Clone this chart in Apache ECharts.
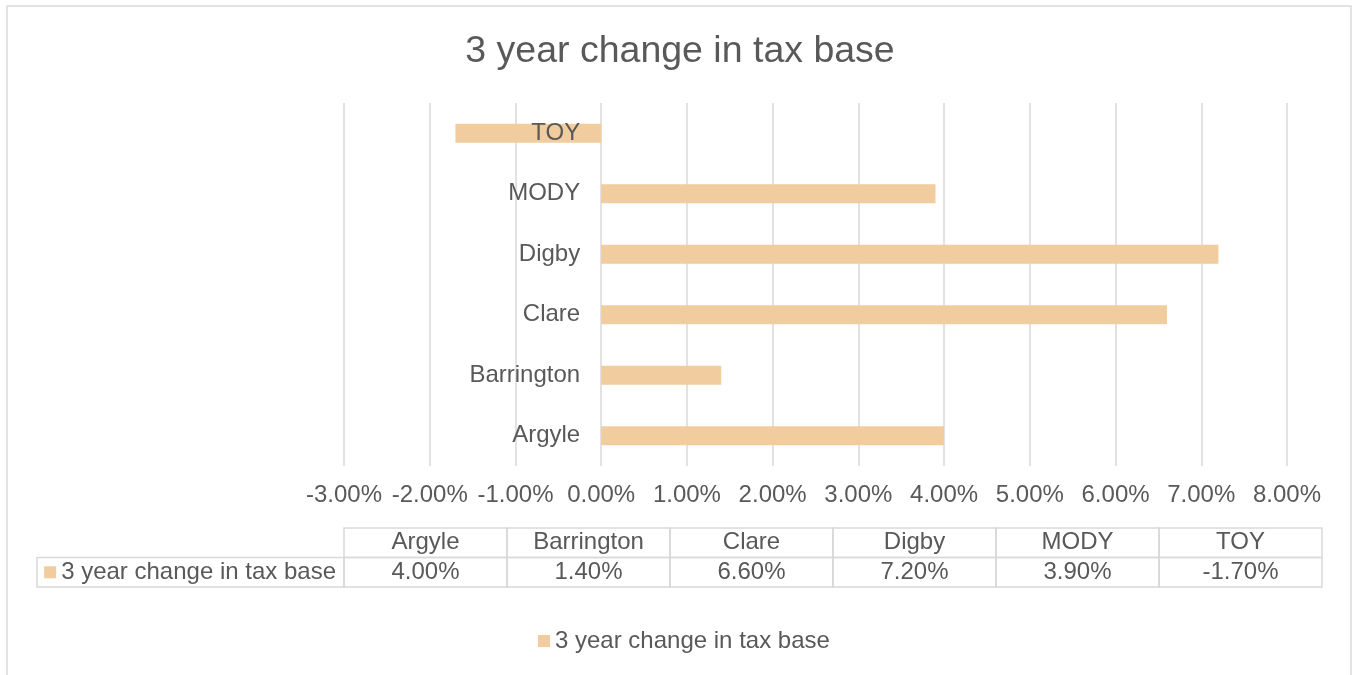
<!DOCTYPE html>
<html>
<head>
<meta charset="utf-8">
<title>3 year change in tax base</title>
<script src="https://cdn.jsdelivr.net/npm/echarts@6/dist/echarts.min.js"></script>
<style>
  html, body { margin: 0; padding: 0; background: #fff; }
  #chart { width: 1353px; height: 675px; }
</style>
</head>
<body>
<div id="chart"></div>
<script>
// 数据
var categories = ['Argyle', 'Barrington', 'Clare', 'Digby', 'MODY', 'TOY']
var seriesName = '3 year change in tax base'
var taxBaseChange = [4.0, 1.4, 6.6, 7.2, 3.9, -1.7] // 单位 %
var xTicks = { min: -3, max: 8, step: 1 }

var barColor = '#F1CC9E'
var textColor = '#595959'
var lineColor = '#D9D9D9'
var font = 'Liberation Sans, Arial, sans-serif'

function pct(v) {
  return v.toFixed(2) + '%'
}

// 表格单元：每个类别两行（表头 + 数值），外加左侧图例格
var tableCells = []
categories.forEach(function (c, i) {
  tableCells.push([i, 1, 'head'])
  tableCells.push([i, 0, 'val'])
})
tableCells.push([0, 0, 'legend'])

var myChart = echarts.init(document.getElementById('chart'))

myChart.setOption({
  animation: false,
  textStyle: { fontFamily: font },
  title: {
    text: '3 year change in tax base',
    left: 675,
    textAlign: 'center',
    top: 28,
    textStyle: { fontFamily: font, fontSize: 37.5, fontWeight: 'normal', color: textColor }
  },
  legend: {
    left: 538,
    top: 629,
    padding: 0,
    icon: 'rect',
    itemWidth: 12,
    itemHeight: 12,
    data: [seriesName],
    textStyle: { fontFamily: font, fontSize: 24, color: textColor }
  },
  graphic: [{
    type: 'rect',
    shape: { x: 7, y: 6, width: 1344, height: 720 },
    style: { fill: 'none', stroke: lineColor, lineWidth: 1.5 },
    silent: true
  }],
  grid: [
    { left: 344, right: 66, top: 103, bottom: 209, outerBoundsMode: 'none' },
    { left: 344, right: 31, top: 528, bottom: 88, outerBoundsMode: 'none' }
  ],
  xAxis: [
    {
      type: 'value',
      gridIndex: 0,
      min: xTicks.min,
      max: xTicks.max,
      interval: xTicks.step,
      axisLine: { show: false },
      axisTick: { show: false },
      axisLabel: {
        margin: 17,
        fontFamily: font,
        fontSize: 24,
        color: textColor,
        formatter: function (v) { return pct(v) }
      },
      splitLine: { show: true, lineStyle: { color: lineColor, width: 1.5 } }
    },
    {
      type: 'category',
      gridIndex: 1,
      data: categories,
      show: false
    }
  ],
  yAxis: [
    {
      type: 'category',
      gridIndex: 0,
      data: categories,
      z: 5, // 标签盖在柱子上面（TOY）
      axisLine: { show: false },
      axisTick: { show: false },
      axisLabel: { margin: 21, fontFamily: font, fontSize: 24, color: textColor }
    },
    {
      type: 'category',
      gridIndex: 1,
      data: [seriesName, ''],
      axisLine: { show: false },
      axisTick: { show: false },
      axisLabel: {
        margin: 8,
        formatter: function (v) { return v ? '{m|}{t|' + v + '}' : '' },
        rich: {
          m: { width: 12, height: 12, backgroundColor: barColor },
          t: { fontFamily: font, fontSize: 24, color: textColor, padding: [0, 0, 0, 5] }
        }
      }
    }
  ],
  series: [
    {
      name: seriesName,
      type: 'bar',
      xAxisIndex: 0,
      yAxisIndex: 0,
      barWidth: 19,
      itemStyle: { color: barColor },
      data: taxBaseChange,
      z: 1
    },
    {
      type: 'custom',
      xAxisIndex: 1,
      yAxisIndex: 1,
      silent: true,
      data: tableCells,
      encode: { x: 0, y: 1 },
      renderItem: function (params, api) {
        var i = api.value(0)
        var row = api.value(1)
        var kind = tableCells[params.dataIndex][2]
        var c = api.coord([i, row])
        var s = api.size([1, 1])
        if (kind === 'legend') {
          var gx = params.coordSys.x
          return {
            type: 'rect',
            shape: { x: 37, y: c[1] - s[1] / 2, width: gx - 37, height: s[1] },
            style: { fill: 'none', stroke: lineColor, lineWidth: 1.5 }
          }
        }
        var txt = kind === 'head' ? categories[i] : pct(taxBaseChange[i])
        return {
          type: 'group',
          children: [
            {
              type: 'rect',
              shape: { x: c[0] - s[0] / 2, y: c[1] - s[1] / 2, width: s[0], height: s[1] },
              style: { fill: 'none', stroke: lineColor, lineWidth: 1.5 }
            },
            {
              type: 'text',
              x: c[0],
              y: c[1],
              style: {
                text: txt,
                fontFamily: font,
                fontSize: 24,
                fill: textColor,
                align: 'center',
                verticalAlign: 'middle'
              }
            }
          ]
        }
      }
    }
  ]
})

// 类别标签贴在 0 线左侧：用 x 轴自己的刻度算出偏移
var leftPx = myChart.convertToPixel({ xAxisIndex: 0 }, xTicks.min)
var zeroPx = myChart.convertToPixel({ xAxisIndex: 0 }, 0)
myChart.setOption({
  yAxis: [{ offset: leftPx - zeroPx }, {}]
})
</script>
</body>
</html>
